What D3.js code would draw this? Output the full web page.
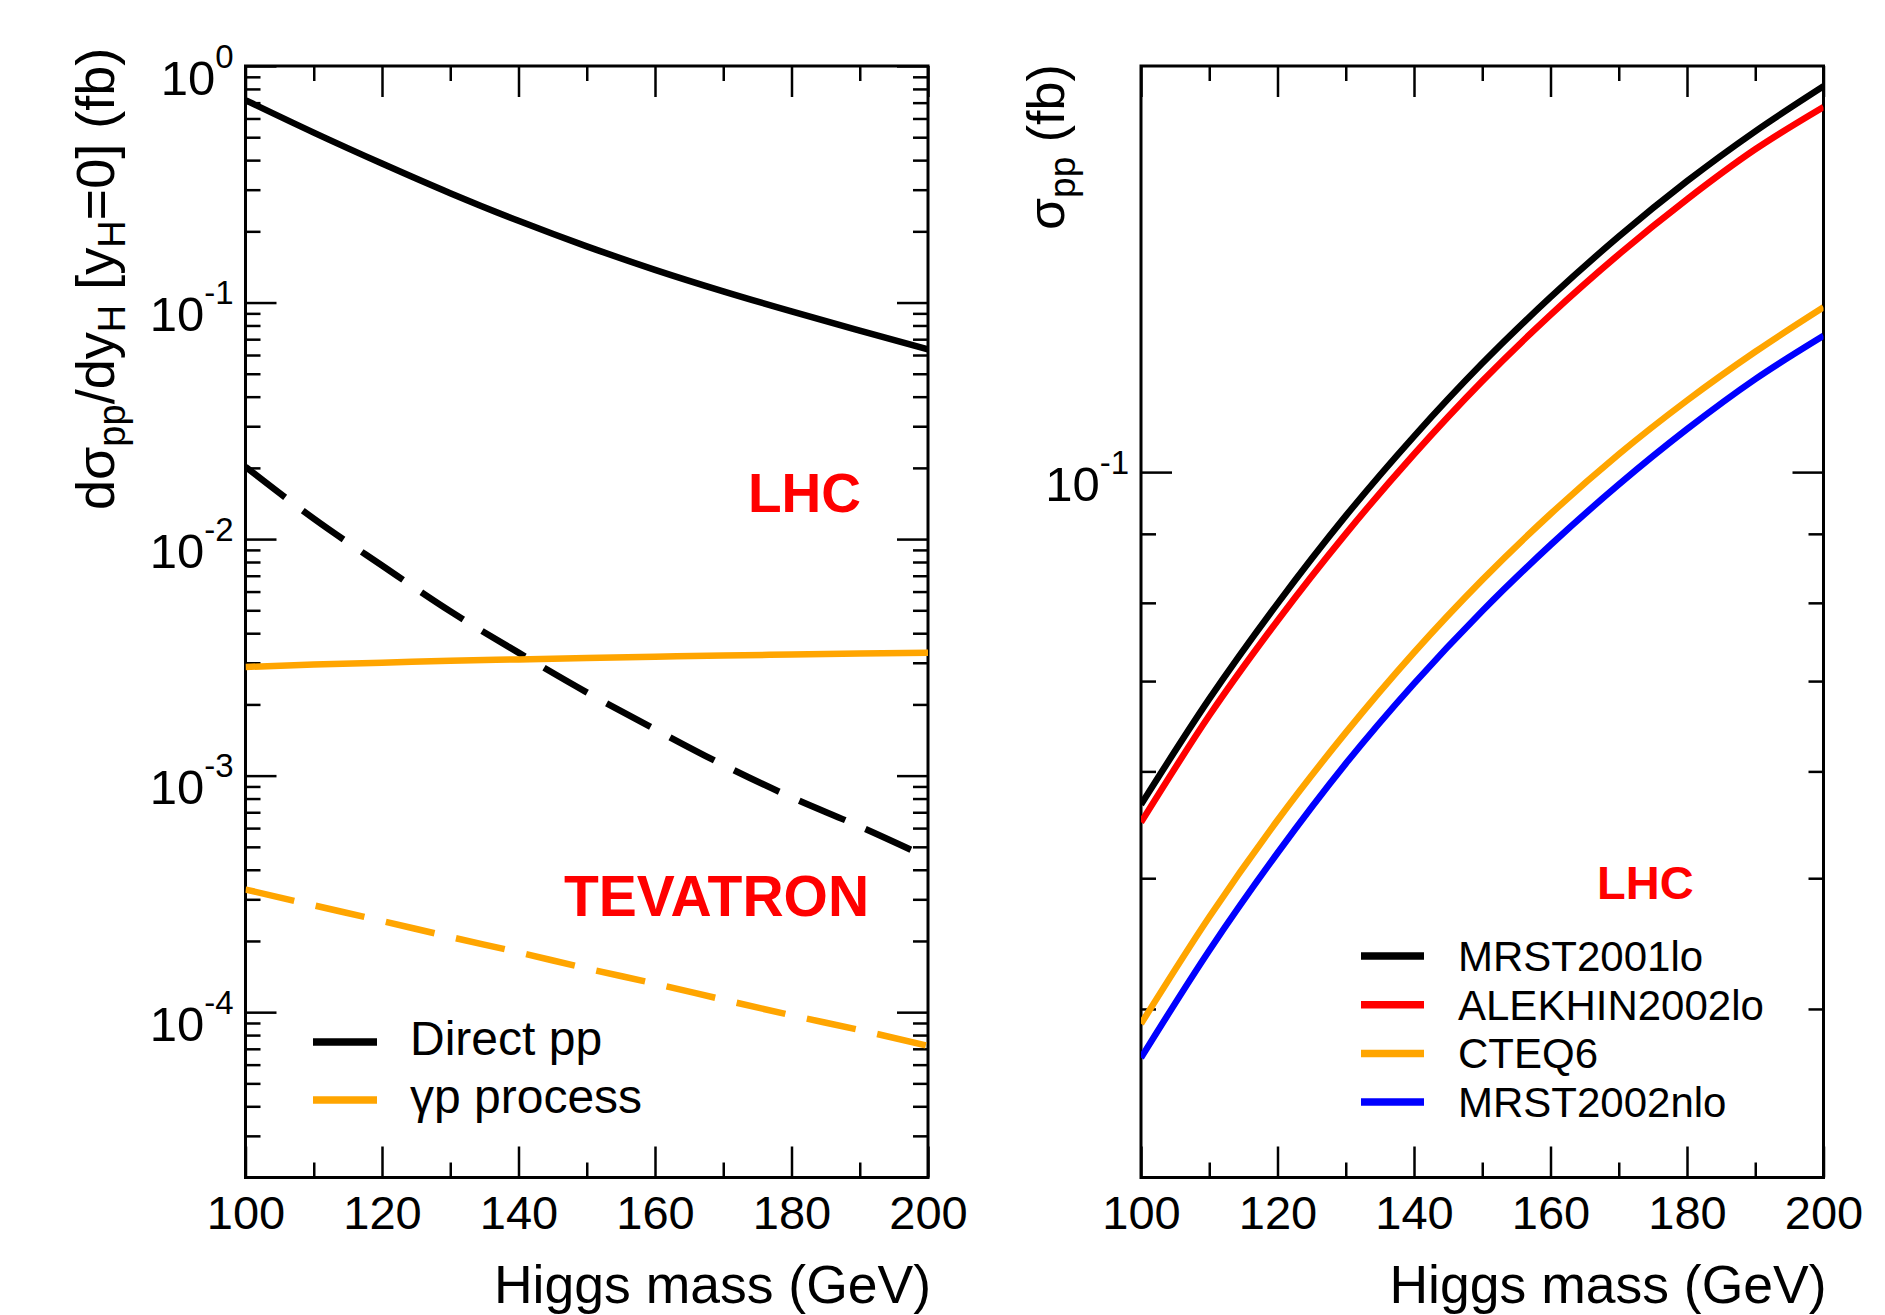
<!DOCTYPE html>
<html lang="en">
<head>
<meta charset="utf-8">
<title>Higgs production</title>
<script src="https://cdnjs.cloudflare.com/ajax/libs/d3/7.8.5/d3.min.js"></script>
<style>
  body { margin: 0; background: #fff; }
  svg text { font-family: "Liberation Sans", Arial, sans-serif; fill: #000; }
  .tick line { stroke: #000; stroke-width: 2.5; }
  .domain { display: none; }
  .frame { fill: none; stroke: #000; stroke-width: 3; }
  .curve { fill: none; stroke-width: 6.5; }
  .key { stroke-width: 7.5; }
</style>
</head>
<body>
<svg id="chart" width="1885" height="1315"></svg>
<script>

/* Data */
/* ==== */

var mass = [100, 110, 120, 130, 140, 150, 160, 170, 180, 190, 200];

// left panel: d sigma / dy at y_H = 0
var directLHC = [0.717, 0.523, 0.387, 0.290, 0.2215, 0.1728, 0.1375, 0.1115, 0.0917, 0.0761, 0.0634];
var directTEV = [0.0202, 0.0122, 0.00773, 0.00495, 0.00331, 0.00225, 0.00157, 0.00111, 0.00081, 0.00061, 0.00045];
var gammaLHC  = [0.00288, 0.00295, 0.00300, 0.00306, 0.00310, 0.00314, 0.00318, 0.00322, 0.00325, 0.00328, 0.00331];
var gammaTEV  = [3.30e-4, 2.83e-4, 2.43e-4, 2.08e-4, 1.79e-4, 1.53e-4, 1.32e-4, 1.13e-4, 9.7e-5, 8.4e-5, 7.2e-5];

// right panel: sigma for several PDF sets
var mrst2001lo    = [0.0567, 0.0679, 0.0799, 0.0928, 0.1063, 0.1204, 0.1348, 0.1495, 0.1643, 0.1789, 0.1932];
var alekhin2002lo = [0.0550, 0.0660, 0.0776, 0.0900, 0.1031, 0.1168, 0.1308, 0.1450, 0.1593, 0.1735, 0.1865];
var cteq6         = [0.0390, 0.0468, 0.0552, 0.0641, 0.0735, 0.0832, 0.0931, 0.1031, 0.1130, 0.1228, 0.1325];
var mrst2002nlo   = [0.0368, 0.0442, 0.0522, 0.0608, 0.0697, 0.0789, 0.0883, 0.0979, 0.1076, 0.1172, 0.1262];

// ticks
var xMajor = [100, 120, 140, 160, 180, 200];
var xMinor = [110, 130, 150, 170, 190];
var leftDecades = [1e-4, 1e-3, 1e-2, 1e-1, 1];
var rightDecades = [0.1];
var rightMinor = [0.04, 0.05, 0.06, 0.07, 0.08, 0.09];

var leftMinor = [];
[-5, -4, -3, -2, -1].forEach(function(e) {
  for (var k = 2; k <= 9; k++) leftMinor.push(k * Math.pow(10, e));
});
leftMinor = leftMinor.filter(function(v) { return v > 2.05e-5 && v < 1; });


/* Set up */
/* ====== */

var svg = d3.select('#chart');
var w = 682.5, h = 1111.5, top0 = 66;

function panel(left, yDomain, yDecades, yMinorVals, id) {

  var g = svg.append('g').attr('transform', 'translate(' + left + ',' + top0 + ')');

  var x = d3.scaleLinear().domain([100, 200]).range([0, w]);
  var y = d3.scaleLog().domain(yDomain).range([h, 0]);

  g.append('clipPath').attr('id', id)
    .append('rect').attr('width', w).attr('height', h);

  // x axes, bottom with labels, top mirrored
  g.append('g').attr('transform', 'translate(0,' + h + ')')
    .call(d3.axisBottom(x).tickValues(xMajor).tickSize(-31).tickSizeOuter(0).tickPadding(18))
    .selectAll('text').style('font-size', '47px');
  g.append('g').attr('transform', 'translate(0,' + h + ')')
    .call(d3.axisBottom(x).tickValues(xMinor).tickSize(-15).tickSizeOuter(0).tickFormat(''));
  g.append('g')
    .call(d3.axisTop(x).tickValues(xMajor).tickSize(-31).tickSizeOuter(0).tickFormat(''));
  g.append('g')
    .call(d3.axisTop(x).tickValues(xMinor).tickSize(-15).tickSizeOuter(0).tickFormat(''));

  // y axes, left with labels, right mirrored
  var yl = g.append('g')
    .call(d3.axisLeft(y).tickValues(yDecades).tickSize(-31).tickSizeOuter(0)
      .tickFormat(function(d) { return Math.round(Math.log10(d)); }));

  yl.selectAll('.tick text').each(function() {
    var t = d3.select(this);
    var e = t.text();
    t.text(null)
      .attr('x', -12).attr('y', 28).attr('dy', null)
      .style('text-anchor', 'end');
    t.append('tspan').style('font-size', '49px').text('10');
    t.append('tspan').style('font-size', '33px').attr('dy', -27).text(e);
  });

  g.append('g')
    .call(d3.axisLeft(y).tickValues(yMinorVals).tickSize(-15).tickSizeOuter(0).tickFormat(''));
  g.append('g').attr('transform', 'translate(' + w + ',0)')
    .call(d3.axisRight(y).tickValues(yDecades).tickSize(-31).tickSizeOuter(0).tickFormat(''));
  g.append('g').attr('transform', 'translate(' + w + ',0)')
    .call(d3.axisRight(y).tickValues(yMinorVals).tickSize(-15).tickSizeOuter(0).tickFormat(''));

  g.append('rect').attr('class', 'frame').attr('width', w).attr('height', h);

  // x title
  g.append('text')
    .attr('x', w + 3).attr('y', 1303 - top0)
    .style('text-anchor', 'end').style('font-size', '53.5px')
    .text('Higgs mass (GeV)');

  var line = d3.line()
    .x(function(d, i) { return x(mass[i]); })
    .y(function(d) { return y(d); })
    .curve(d3.curveMonotoneX);

  var plot = g.append('g').attr('clip-path', 'url(#' + id + ')');

  return { g: g, x: x, y: y, line: line, plot: plot };
}


/* Left panel */
/* ========== */

var L = panel(245.5, [2e-5, 1], leftDecades, leftMinor, 'clipL');

var leftSeries = [
  { v: directLHC, color: '#000', dash: null },
  { v: directTEV, color: '#000', dash: '50,22' },
  { v: gammaLHC,  color: '#ffa500', dash: null },
  { v: gammaTEV,  color: '#ffa500', dash: '50,22' }
];

L.plot.selectAll('path').data(leftSeries).enter()
  .append('path')
    .attr('class', 'curve')
    .attr('d', function(d) { return L.line(d.v); })
    .style('stroke', function(d) { return d.color; })
    .style('stroke-dasharray', function(d) { return d.dash; });

// y title
var ly = svg.append('text')
  .attr('transform', 'translate(114,510) rotate(-90)')
  .style('font-size', '54px');
ly.append('tspan').text('dσ');
ly.append('tspan').attr('dy', 11).style('font-size', '38px').text('pp');
ly.append('tspan').attr('dy', -11).text('/dy');
ly.append('tspan').attr('dy', 11).style('font-size', '38px').text('H');
ly.append('tspan').attr('dy', -11).text(' [y');
ly.append('tspan').attr('dy', 11).style('font-size', '38px').text('H');
ly.append('tspan').attr('dy', -11).text('=0] (fb)');

// red labels
svg.append('text').attr('x', 748).attr('y', 512)
  .style('font-size', '55px').style('font-weight', 'bold').style('fill', '#ff0000')
  .text('LHC');
svg.append('text').attr('x', 564).attr('y', 916)
  .style('font-size', '57px').style('font-weight', 'bold').style('fill', '#ff0000')
  .text('TEVATRON');

// legend
var leftKeys = [
  { label: 'Direct pp', color: '#000', y: 1042 },
  { label: 'γp process', color: '#ffa500', y: 1100 }
];
var lk = svg.append('g').selectAll('g').data(leftKeys).enter().append('g');
lk.append('line').attr('class', 'key')
  .attr('x1', 313).attr('x2', 377)
  .attr('y1', function(d) { return d.y; }).attr('y2', function(d) { return d.y; })
  .style('stroke', function(d) { return d.color; });
lk.append('text')
  .attr('x', 410).attr('y', function(d) { return d.y + 13; })
  .style('font-size', '48px')
  .text(function(d) { return d.label; });


/* Right panel */
/* =========== */

var R = panel(1141, [0.03, 0.2], rightDecades, rightMinor, 'clipR');

var rightSeries = [
  { label: 'MRST2001lo',    v: mrst2001lo,    color: '#000' },
  { label: 'ALEKHIN2002lo', v: alekhin2002lo, color: '#ff0000' },
  { label: 'CTEQ6',         v: cteq6,         color: '#ffa500' },
  { label: 'MRST2002nlo',   v: mrst2002nlo,   color: '#0000ff' }
];

R.plot.selectAll('path').data(rightSeries).enter()
  .append('path')
    .attr('class', 'curve')
    .attr('d', function(d) { return R.line(d.v); })
    .style('stroke', function(d) { return d.color; });

var ry = svg.append('text')
  .attr('transform', 'translate(1064,230) rotate(-90)')
  .style('font-size', '52px');
ry.append('tspan').text('σ');
ry.append('tspan').attr('dy', 11).style('font-size', '37px').text('pp');
ry.append('tspan').attr('dy', -11).text(' (fb)');

svg.append('text').attr('x', 1597).attr('y', 899)
  .style('font-size', '47px').style('font-weight', 'bold').style('fill', '#ff0000')
  .text('LHC');

var rk = svg.append('g').selectAll('g').data(rightSeries).enter().append('g');
rk.append('line').attr('class', 'key')
  .attr('x1', 1361).attr('x2', 1424)
  .attr('y1', function(d, i) { return 956 + i * 48.7; })
  .attr('y2', function(d, i) { return 956 + i * 48.7; })
  .style('stroke', function(d) { return d.color; });
rk.append('text')
  .attr('x', 1458).attr('y', function(d, i) { return 956 + i * 48.7 + 15; })
  .style('font-size', '42px')
  .text(function(d) { return d.label; });

</script>
</body>
</html>
